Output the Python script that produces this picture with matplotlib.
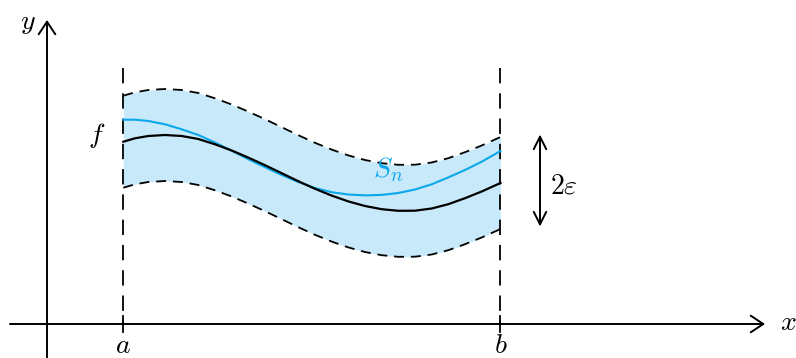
import matplotlib
matplotlib.use("Agg")
import matplotlib.pyplot as plt
import numpy as np

plt.rcParams['mathtext.fontset'] = 'cm'

# ---- data (math units, origin at axes crossing) ----
a_pos = 0.76
b_pos = 4.535
eps = 0.46

curve_x = [0.763, 0.88, 1.013, 1.18, 1.347, 1.513, 1.68, 1.847, 2.013, 2.18, 2.347,
           2.513, 2.68, 2.847, 3.013, 3.18, 3.347, 3.513, 3.68, 3.847, 4.013,
           4.18, 4.347, 4.535]
f_y = [1.823, 1.857, 1.88, 1.89, 1.88, 1.85, 1.797, 1.735, 1.664, 1.588, 1.508,
       1.428, 1.352, 1.284, 1.226, 1.18, 1.148, 1.132, 1.133, 1.155, 1.198,
       1.258, 1.325, 1.41]
s_y = [2.043, 2.043, 2.03, 1.997, 1.947, 1.89, 1.815, 1.733, 1.648, 1.568, 1.49,
       1.42, 1.36, 1.318, 1.295, 1.286, 1.291, 1.31, 1.345, 1.397, 1.466,
       1.54, 1.623, 1.73]

x_axis = [-0.37, 7.18]
y_axis = [-0.34, 3.04]
vline_top = 2.56
eps_arrow_x = 4.93
eps_arrow_c = 1.435

labels = {
    'x': (7.41, 0.02),
    'y': (-0.19, 3.02),
    'f': (0.50, 1.88),
    'Sn': (3.41, 1.54),
    'eps': (5.03, 1.38),
}

blue = '#0aa8ea'
fill = '#c8e9f9'

fig = plt.figure(figsize=(7.96, 3.58), dpi=100)
ax = fig.add_axes([0, 0, 1, 1])
ax.set_xlim(-0.47, 7.49)
ax.set_ylim(-0.34, 3.24)
ax.axis('off')

fx = np.array(curve_x); fy = np.array(f_y)

# band
ax.fill_between(fx, fy - eps, fy + eps, color=fill, lw=0, zorder=1)
ax.plot(fx, fy + eps, color='black', lw=1.3, ls=(0, (5.5, 3.8)), zorder=3)
ax.plot(fx, fy - eps, color='black', lw=1.3, ls=(0, (5.5, 3.8)), zorder=3)

# verticals at a and b
for xv in (a_pos, b_pos):
    ax.plot([xv, xv], [vline_top, 0], color='black', lw=1.3, ls=(0, (8.5, 5.5)), zorder=3)
    ax.plot([xv, xv], [0.08, -0.08], color='black', lw=1.3, zorder=3)

# curves
ax.plot(curve_x, s_y, color=blue, lw=1.5, zorder=4, solid_joinstyle='round')
ax.plot(curve_x, f_y, color='black', lw=1.6, zorder=5, solid_joinstyle='round')

# axes with arrows
ap = dict(arrowstyle='->,head_length=0.9,head_width=0.6', lw=1.4, color='black',
          shrinkA=0, shrinkB=0, mutation_scale=10)
ax.annotate('', xy=(x_axis[1], 0), xytext=(x_axis[0], 0), arrowprops=ap)
ax.annotate('', xy=(0, y_axis[1]), xytext=(0, y_axis[0]), arrowprops=ap)

# 2 eps arrow
ap2 = dict(arrowstyle='<->,head_length=0.9,head_width=0.45', lw=1.4, color='black',
           shrinkA=0, shrinkB=0, mutation_scale=10)
ax.annotate('', xy=(eps_arrow_x, eps_arrow_c + eps), xytext=(eps_arrow_x, eps_arrow_c - eps),
            arrowprops=ap2)

fs = 20
ax.text(*labels['x'], r'$x$', fontsize=fs, ha='center', va='center')
ax.text(*labels['y'], r'$y$', fontsize=fs, ha='center', va='center')
ax.text(a_pos, -0.07, r'$a$', fontsize=fs, ha='center', va='top')
ax.text(b_pos, -0.07, r'$b$', fontsize=fs, ha='center', va='top')
ax.text(*labels['f'], r'$f$', fontsize=fs, ha='center', va='center')
ax.text(*labels['Sn'], r'$S_n$', fontsize=fs, ha='center', va='center', color=blue)
ax.text(*labels['eps'], r'$2\varepsilon$', fontsize=fs, ha='left', va='center')

fig.savefig('out.png', dpi=100)
